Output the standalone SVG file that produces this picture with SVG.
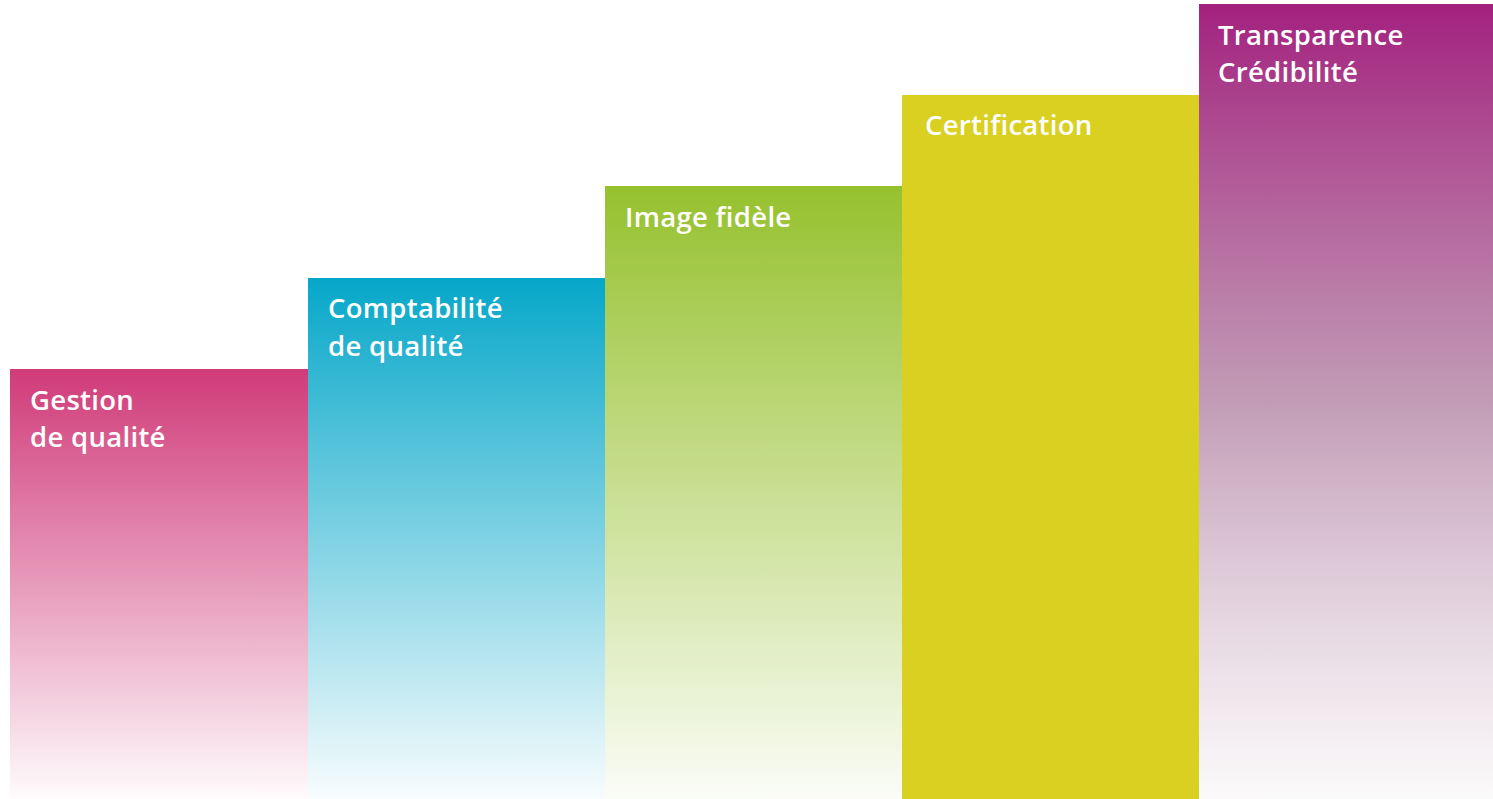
<svg xmlns="http://www.w3.org/2000/svg" width="1493" height="799" viewBox="0 0 1493 799">
<defs>
<linearGradient id="gPink" x1="0" y1="0" x2="0" y2="1"><stop offset="0" stop-color="#d03b79"/><stop offset="1" stop-color="#d03b79" stop-opacity="0.02"/></linearGradient>
<linearGradient id="gCyan" x1="0" y1="0" x2="0" y2="1"><stop offset="0" stop-color="#06a7c9"/><stop offset="1" stop-color="#06a7c9" stop-opacity="0.03"/></linearGradient>
<linearGradient id="gGreen" x1="0" y1="0" x2="0" y2="1"><stop offset="0" stop-color="#96c12e"/><stop offset="1" stop-color="#96c12e" stop-opacity="0.04"/></linearGradient>
<linearGradient id="gPurple" x1="0" y1="0" x2="0" y2="1"><stop offset="0" stop-color="#a3217e"/><stop offset="0.5" stop-color="#b78aa9" stop-opacity="0.85"/><stop offset="1" stop-color="#f8f6f7" stop-opacity="0.6"/></linearGradient>
<style>
.lbl{font-family:"Open Sans","Noto Sans","Liberation Sans",sans-serif;font-weight:600;font-size:27.5px;letter-spacing:0.3px;fill:#ffffff}
</style>
</defs>
<rect width="1493" height="799" fill="#ffffff"/>
<g id="bar-gestion">
<rect x="10" y="369" width="298" height="430" fill="url(#gPink)"/>
<text class="lbl" x="30" y="410">Gestion</text>
<text class="lbl" x="30" y="447">de qualité</text>
</g>
<g id="bar-comptabilite">
<rect x="308" y="278" width="297" height="521" fill="url(#gCyan)"/>
<text class="lbl" x="328" y="318">Comptabilité</text>
<text class="lbl" x="328" y="356">de qualité</text>
</g>
<g id="bar-image">
<rect x="605" y="186" width="297" height="613" fill="url(#gGreen)"/>
<text class="lbl" x="625" y="227">Image fidèle</text>
</g>
<g id="bar-certification">
<rect x="902" y="95" width="297" height="704" fill="#d9d021"/>
<text class="lbl" x="925" y="135">Certification</text>
</g>
<g id="bar-transparence">
<rect x="1199" y="4" width="294" height="795" fill="url(#gPurple)"/>
<text class="lbl" x="1218" y="45">Transparence</text>
<text class="lbl" x="1218" y="82">Crédibilité</text>
</g>
<g id="connectors"></g>
</svg>
